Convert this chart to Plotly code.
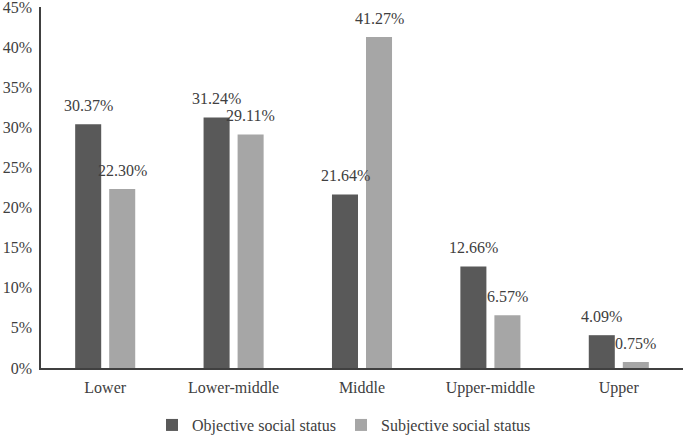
import plotly.graph_objects as go

categories = ["Lower", "Lower-middle", "Middle", "Upper-middle", "Upper"]
objective = [30.37, 31.24, 21.64, 12.66, 4.09]
subjective = [22.30, 29.11, 41.27, 6.57, 0.75]
y_ticks = [0, 5, 10, 15, 20, 25, 30, 35, 40, 45]
y_tick_labels = [f"{v}%" for v in y_ticks]

font = dict(family="Liberation Serif, Times New Roman, serif", size=16, color="#404040")

fig = go.Figure()
fig.add_trace(go.Bar(
    name="Objective social status", x=categories, y=objective,
    marker=dict(color="#595959", line=dict(width=0)),
))
fig.add_trace(go.Bar(
    name="Subjective social status", x=categories, y=subjective,
    marker=dict(color="#A6A6A6", line=dict(width=0)),
))

# value labels above the bars (shifted onto each bar of the group)
for series, shift in ((objective, -17), (subjective, 17)):
    for cat, v in zip(categories, series):
        fig.add_annotation(x=cat, y=v, text=f"{v:.2f}%", showarrow=False,
                           xshift=shift, yshift=8, yanchor="bottom", font=font)

fig.update_layout(
    width=685, height=435,
    margin=dict(l=41, r=2, t=7, b=67, autoexpand=False),
    paper_bgcolor="white", plot_bgcolor="white",
    font=font,
    barmode="group", bargap=0.47, bargroupgap=0.235,
    showlegend=True,
    legend=dict(orientation="h", x=0.472, xanchor="center", y=-0.158, yanchor="middle",
                font=font, traceorder="normal"),
)
fig.update_xaxes(showline=True, linecolor="#404040", linewidth=1.5, ticks="",
                 showgrid=False, tickfont=font, ticklabelstandoff=4, automargin=False)
fig.update_yaxes(range=[0, 45.001], tickvals=y_ticks, ticktext=y_tick_labels,
                 showline=True, linecolor="#404040", linewidth=1.5, ticks="",
                 showgrid=False, zeroline=False, tickfont=font, automargin=False,
                 ticklabelstandoff=4, ticklabeloverflow="allow")

fig.write_html("out.html", config={"displayModeBar": False},
               post_script="document.body.style.margin='0';document.body.style.overflow='hidden';")
